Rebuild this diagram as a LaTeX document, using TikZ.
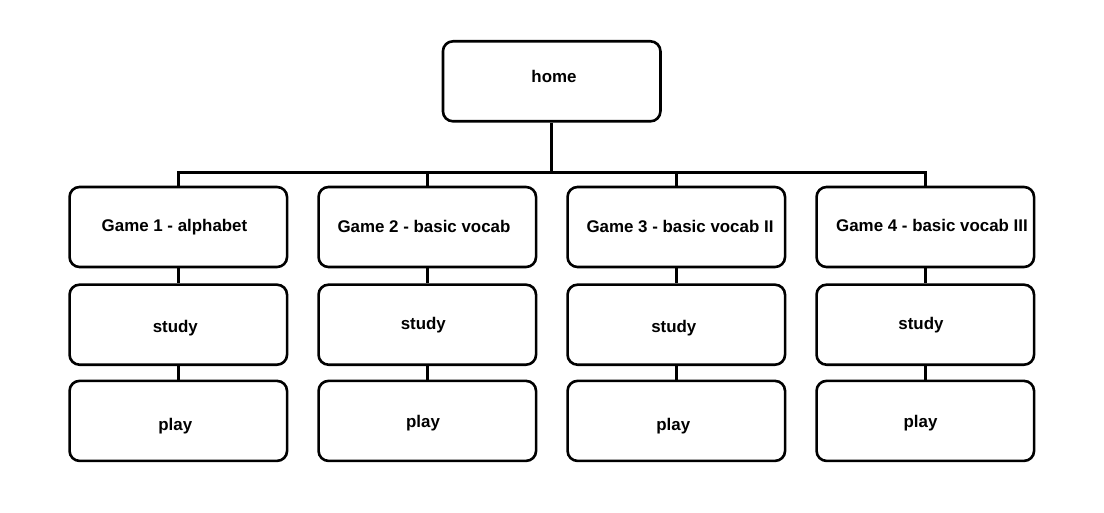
\documentclass[tikz,border=0pt]{standalone}
\usepackage{fontspec}
\setmainfont{Liberation Sans}
\begin{document}
\begin{tikzpicture}[x=1pt,y=-1pt,
  box/.style={draw=black, line width=2.6pt, rounded corners=10pt,
    minimum width=217.5pt, minimum height=80pt, inner sep=0pt},
  lbl/.style={anchor=base, inner sep=0pt, font=\fontsize{16.9}{20}\selectfont\bfseries},
  link/.style={draw=black, line width=2.6pt}]
\useasboundingbox[fill=white] (0,0) rectangle (1104,513);

% boxes
\node[box] (home) at (551.7,81.3) {};
\foreach \i/\x in {1/178.3,2/427.3,3/676.3,4/925.3}{
  \node[box] (g\i) at (\x,227) {};
  \node[box] (s\i) at (\x,324.7) {};
  \node[box] (p\i) at (\x,420.9) {};
}

% texts
\node[lbl] (thome) at (554,83) {home};
\node[lbl] (tg1) at (174.5,231.7) {Game 1 - alphabet};
\node[lbl] (tg2) at (424,233) {Game 2 - basic vocab};
\node[lbl] (tg3) at (680,232.5) {Game 3 - basic vocab II};
\node[lbl] (tg4) at (932,231.5) {Game 4 - basic vocab III};
\node[lbl] (ts1) at (175.3,332.2) {study};
\node[lbl] (ts2) at (423.3,330) {study};
\node[lbl] (ts3) at (673.8,332.4) {study};
\node[lbl] (ts4) at (921,330) {study};
\node[lbl] (tp1) at (175.3,430.5) {play};
\node[lbl] (tp2) at (423,427.4) {play};
\node[lbl] (tp3) at (673.3,430) {play};
\node[lbl] (tp4) at (920.5,427.4) {play};

% connectors
\coordinate (bus) at (551.7,172.7);
\draw[link] (home.south) -- (home.south |- bus);
\draw[link] (g1.north) |- (g4.north |- bus) -- (g4.north);
\draw[link] (g2.north) -- (g2.north |- bus);
\draw[link] (g3.north) -- (g3.north |- bus);
\foreach \i in {1,2,3,4}{
  \draw[link] (g\i.south) -- (s\i.north);
  \draw[link] (s\i.south) -- (p\i.north);
}
\end{tikzpicture}
\end{document}
